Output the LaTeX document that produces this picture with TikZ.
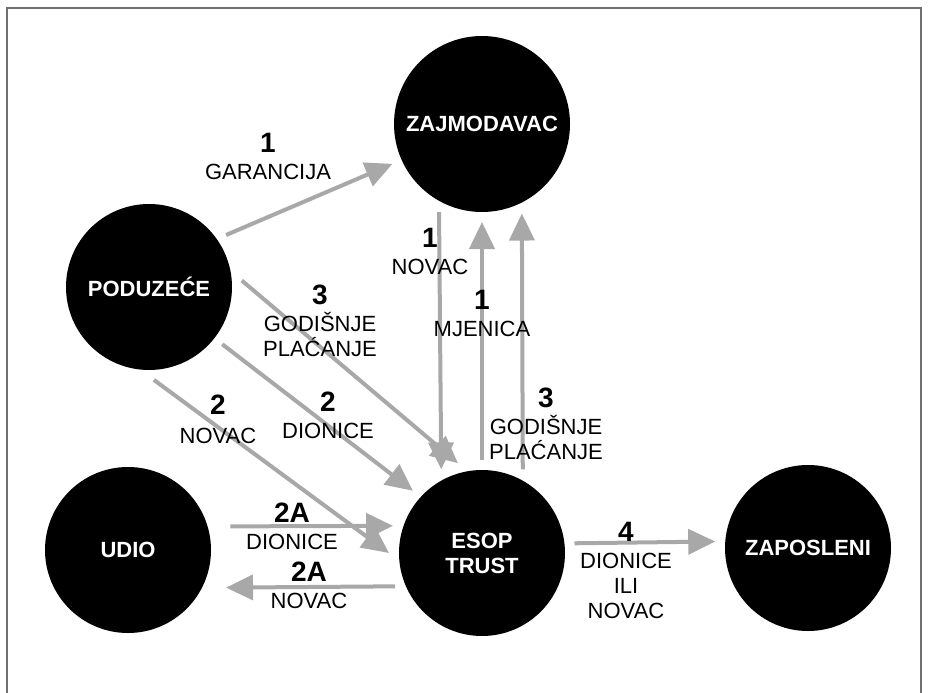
\documentclass[tikz,border=0pt]{standalone}
\usepackage{fontspec}
\setmainfont{Liberation Sans}
\usepackage{tikz}
\usetikzlibrary{arrows.meta}
\definecolor{ArrowGray}{HTML}{A8A8A8}
\definecolor{FrameGray}{HTML}{707070}
\newcommand{\korak}[1]{{\fontsize{28}{25}\selectfont\bfseries #1}}

\begin{document}
\begin{tikzpicture}[x=1pt,y=-1pt,
    entity/.style={circle,fill=black,text=white,inner sep=0pt,
      minimum size=166pt,outer sep=10pt,align=center,
      font=\fontsize{22}{25}\selectfont\bfseries},
    lbl/.style={align=center,anchor=north,inner sep=0pt,
      font=\fontsize{22}{25}\selectfont,text=black},
    arr/.style={-{Triangle[length=27pt,width=25pt]},line width=4pt,ArrowGray}
  ]
    \useasboundingbox (0,0) rectangle (929,693);
    \draw[FrameGray,line width=1.5pt] (7,720) |- (921,8) -- (921,720);

    \node[entity,minimum size=176pt] (zajmodavac) at (482,124) {ZAJMODAVAC};
    \node[entity] (poduzece) at (149,287) {PODUZEĆE};
    \node[entity,outer sep=22pt] (udio) at (128,550) {UDIO};
    \node[entity] (esop) at (482,553) {ESOP\\TRUST};
    \node[entity] (zaposleni) at (808,548) {ZAPOSLENI};

    \draw[arr] (poduzece.34.4) -- (zajmodavac.204.3);
    \draw[arr] (zajmodavac.244.6) -- (esop.116.8);
    \draw[arr] (esop.90) -- (zajmodavac.270);
    \draw[arr] (esop.64.5) -- (zajmodavac.294.1);
    \draw[arr] (poduzece.4.5) -- (esop.105.3);
    \draw[arr] (poduzece.322.7) -- (esop.138);
    \draw[arr] (poduzece.273.9) -- (esop.180);
    \draw[arr] (udio.13.2) -- (esop.163.1);
    \draw[arr] (esop.201.4) -- (udio.339.4);
    \draw[arr] (esop.6.2) -- (zaposleni.176.9);

    \node[lbl] (lblGarancija) at (268,133) {\korak{1}\\[2pt]GARANCIJA};
    \node[lbl] (lblNovacZaj) at (430,228) {\korak{1}\\[2pt]NOVAC};
    \node[lbl] (lblMjenica) at (482,290) {\korak{1}\\[2pt]MJENICA};
    \node[lbl] (lblPlacanjeZaj) at (546,388) {\korak{3}\\[2pt]GODIŠNJE\\PLAĆANJE};
    \node[lbl] (lblPlacanjeEsop) at (320,285) {\korak{3}\\[2pt]GODIŠNJE\\PLAĆANJE};
    \node[lbl] (lblDionice) at (328,392) {\korak{2}\\[2pt]DIONICE};
    \node[lbl] (lblNovacPod) at (218,395) {\korak{2}\\[4pt]NOVAC};
    \node[lbl] (lblDioniceUdio) at (292,503) {\korak{2A}\\[2pt]DIONICE};
    \node[lbl] (lblNovacUdio) at (309,562) {\korak{2A}\\[2pt]NOVAC};
    \node[lbl] (lblIsplata) at (626,522) {\korak{4}\\[2pt]DIONICE\\ILI\\NOVAC};
\end{tikzpicture}
\end{document}
